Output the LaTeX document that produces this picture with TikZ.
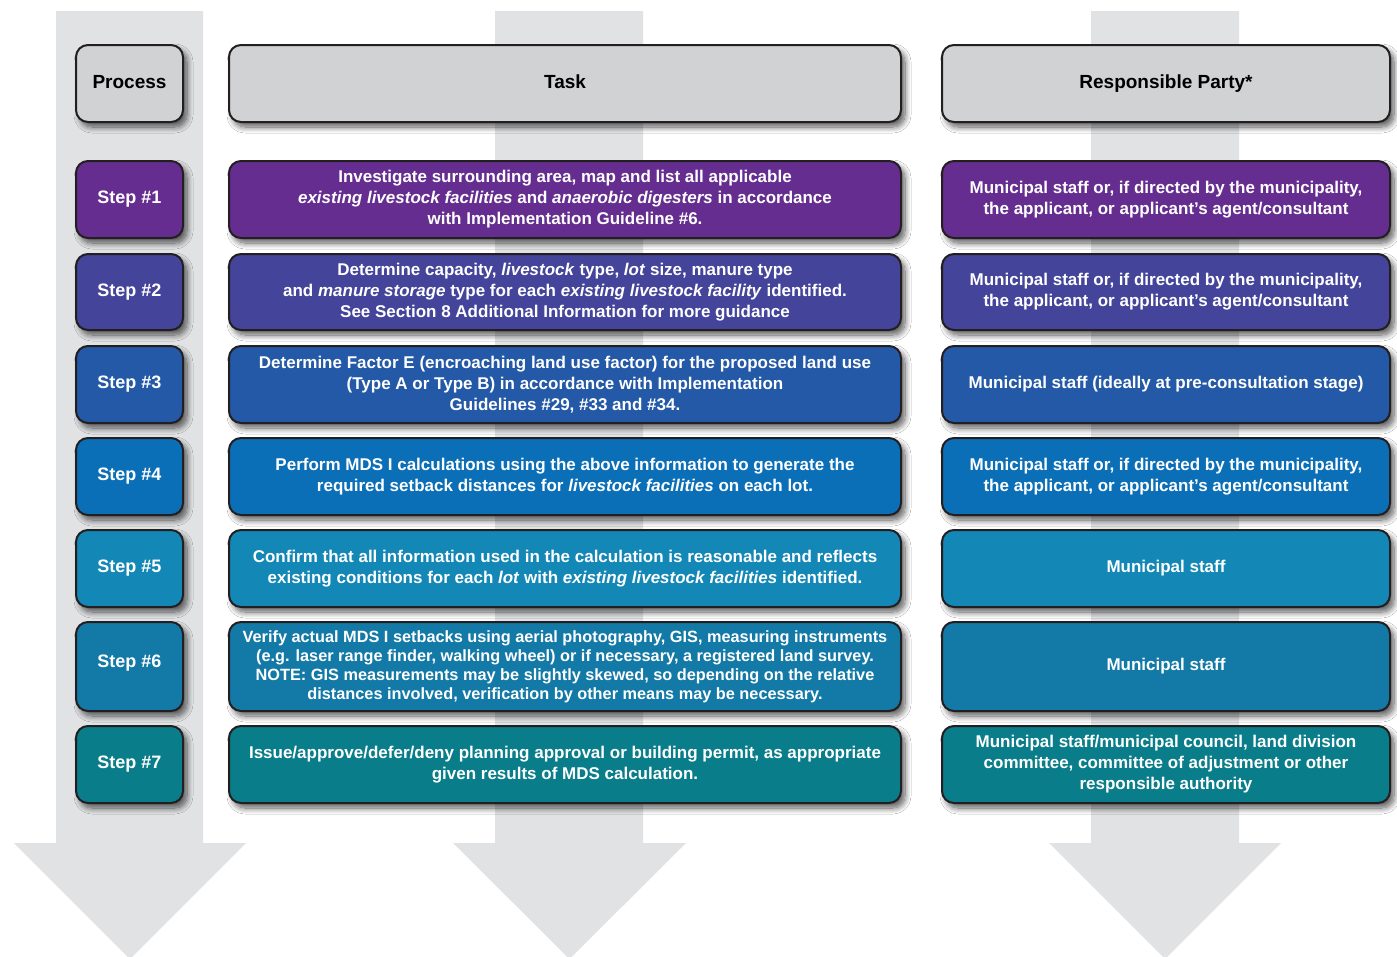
\documentclass[tikz,border=0pt]{standalone}
\usepackage{fontspec}
\setmainfont{Liberation Sans}
\usetikzlibrary{shadows.blur}
\definecolor{arrowgray}{HTML}{E1E2E4}
\definecolor{hdrgray}{HTML}{D1D2D4}
\definecolor{edgec}{HTML}{231F20}
\definecolor{sA}{HTML}{652D8F}
\definecolor{sB}{HTML}{43449A}
\definecolor{sC}{HTML}{2359A6}
\definecolor{sD}{HTML}{0B6FB8}
\definecolor{sE}{HTML}{1387B5}
\definecolor{sF}{HTML}{1379A6}
\definecolor{sG}{HTML}{0A7D8A}
\begin{document}
\begin{tikzpicture}[x=1pt,y=-1pt,
  box/.style={draw=edgec, line width=2pt, rounded corners=12pt, inner sep=0pt, align=center,
    text=white, font=\bfseries\fontsize{17}{21}\selectfont,
    blur shadow={shadow xshift=4pt, shadow yshift=-5pt, shadow blur radius=6pt, shadow blur steps=10, shadow opacity=65}},
  hdrbox/.style={box, fill=hdrgray, text=black, font=\bfseries\fontsize{19}{23}\selectfont},
  stepbox/.style={box, font=\bfseries\fontsize{18}{22}\selectfont},
  colA/.style={minimum width=107pt},
  colB/.style={minimum width=672pt},
  colC/.style={minimum width=448pt},
  bigarrow/.style={fill=arrowgray}]
\useasboundingbox (0,0) rectangle (1397,956);
\fill[white] (0,0) rectangle (1397,956);
% background arrows
\fill[bigarrow] (56,11) -- (203,11) -- (203,843) -- (246,843) -- (130,959) -- (14,843) -- (56,843) -- cycle;
\fill[bigarrow] (495,11) -- (643,11) -- (643,843) -- (686,843) -- (569.5,959) -- (453,843) -- (495,843) -- cycle;
\fill[bigarrow] (1091,11) -- (1239,11) -- (1239,843) -- (1281,843) -- (1165,959) -- (1049,843) -- (1091,843) -- cycle;
% headers
\node[hdrbox, colA, minimum height=77pt] (p0) at (129.5,83.5) {\raisebox{3pt}{Process}};
\node[hdrbox, colB, minimum height=77pt] (t0) at (565,83.5) {\raisebox{4pt}{Task}};
\node[hdrbox, colC, minimum height=77pt] (r0) at (1166,83.5) {\raisebox{3pt}{Responsible Party*}};
% row 1
\node[stepbox, fill=sA, colA, minimum height=77pt] (p1) at (129.5,199.5) {Step \#1};
\node[box, fill=sA, colB, minimum height=77pt] (t1) at (565,199.5) {Investigate surrounding area, map and list all applicable\\\textit{existing livestock facilities} and \textit{anaerobic digesters} in accordance\\with Implementation Guideline \#6.};
\node[box, fill=sA, colC, minimum height=77pt] (r1) at (1166,199.5) {Municipal staff or, if directed by the municipality,\\the applicant, or applicant’s agent/consultant};
% row 2
\node[stepbox, fill=sB, colA, minimum height=76pt] (p2) at (129.5,292) {Step \#2};
\node[box, fill=sB, colB, minimum height=76pt] (t2) at (565,292) {Determine capacity, \textit{livestock} type, \textit{lot} size, manure type\\and \textit{manure storage} type for each \textit{existing livestock facility} identified.\\See Section 8 Additional Information for more guidance};
\node[box, fill=sB, colC, minimum height=76pt] (r2) at (1166,292) {Municipal staff or, if directed by the municipality,\\the applicant, or applicant’s agent/consultant};
% row 3
\node[stepbox, fill=sC, colA, minimum height=77pt] (p3) at (129.5,384.5) {Step \#3};
\node[box, fill=sC, colB, minimum height=77pt] (t3) at (565,384.5) {Determine Factor E (encroaching land use factor) for the proposed land use\\(Type A or Type B) in accordance with Implementation\\Guidelines \#29, \#33 and \#34.};
\node[box, fill=sC, colC, minimum height=77pt] (r3) at (1166,384.5) {Municipal staff (ideally at pre-consultation stage)};
% row 4
\node[stepbox, fill=sD, colA, minimum height=77pt] (p4) at (129.5,476.5) {Step \#4};
\node[box, fill=sD, colB, minimum height=77pt] (t4) at (565,476.5) {Perform MDS I calculations using the above information to generate the\\required setback distances for \textit{livestock facilities} on each lot.};
\node[box, fill=sD, colC, minimum height=77pt] (r4) at (1166,476.5) {Municipal staff or, if directed by the municipality,\\the applicant, or applicant’s agent/consultant};
% row 5
\node[stepbox, fill=sE, colA, minimum height=77pt] (p5) at (129.5,568.5) {Step \#5};
\node[box, fill=sE, colB, minimum height=77pt] (t5) at (565,568.5) {Confirm that all information used in the calculation is reasonable and reflects\\existing conditions for each \textit{lot} with \textit{existing livestock facilities} identified.};
\node[box, fill=sE, colC, minimum height=77pt] (r5) at (1166,568.5) {Municipal staff};
% row 6
\node[stepbox, fill=sF, colA, minimum height=89pt] (p6) at (129.5,666.5) {\raisebox{11pt}{Step \#6}};
\node[box, fill=sF, colB, minimum height=89pt, font=\bfseries\fontsize{16.3}{19}\selectfont] (t6) at (565,666.5) {Verify actual MDS I setbacks using aerial photography, GIS, measuring instruments\\(e.g. laser range finder, walking wheel) or if necessary, a registered land survey.\\NOTE: GIS measurements may be slightly skewed, so depending on the relative\\distances involved, verification by other means may be necessary.};
\node[box, fill=sF, colC, minimum height=89pt] (r6) at (1166,666.5) {Municipal staff};
% row 7
\node[stepbox, fill=sG, colA, minimum height=77pt] (p7) at (129.5,764.5) {Step \#7};
\node[box, fill=sG, colB, minimum height=77pt] (t7) at (565,764.5) {Issue/approve/defer/deny planning approval or building permit, as appropriate\\given results of MDS calculation.};
\node[box, fill=sG, colC, minimum height=77pt] (r7) at (1166,764.5) {Municipal staff/municipal council, land division\\committee, committee of adjustment or other\\responsible authority};
\end{tikzpicture}
\end{document}
